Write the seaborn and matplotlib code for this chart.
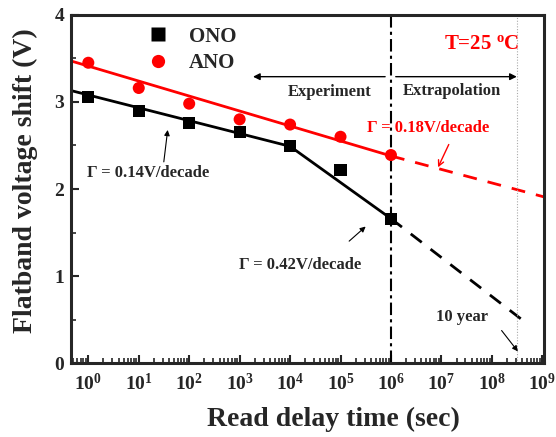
import numpy as np
import pandas as pd
import matplotlib
matplotlib.use("Agg")
import matplotlib.pyplot as plt
import seaborn as sns
from matplotlib.ticker import LogLocator, FixedLocator, MultipleLocator, NullFormatter

# ---------------- data ----------------
time_s = [1, 10, 100, 1e3, 1e4, 1e5, 1e6]
ono_shift = [3.06, 2.90, 2.76, 2.66, 2.49, 2.22, 1.66]
ano_shift = [3.45, 3.16, 2.98, 2.80, 2.74, 2.60, 2.39]

ono_fit_t = [10**-0.34, 1e4, 1e6]
ono_fit_v = [3.13, 2.49, 1.66]
ono_ext_t = [1e6, 10**8.73]
ono_ext_v = [1.66, 0.44]
ano_fit_t = [10**-0.34, 1e6]
ano_fit_v = [3.47, 2.38]
ano_ext_t = [1e6, 10**9.03]
ano_ext_v = [2.38, 1.91]

ten_year_s = 3.15e8
boundary_s = 1e6
xtick_exps = list(range(0, 10))
yticks = [0, 1, 2, 3, 4]

# ---------------- style ----------------
sns.set_theme(style="ticks")
plt.rcParams["font.family"] = ["Liberation Serif", "DejaVu Serif"]
plt.rcParams["font.weight"] = "bold"
plt.rcParams["mathtext.fontset"] = "custom"
plt.rcParams["mathtext.rm"] = "Liberation Serif:bold"
plt.rcParams["mathtext.bf"] = "Liberation Serif:bold"
plt.rcParams["mathtext.it"] = "Liberation Serif:bold"

RED = "#ff0000"

fig = plt.figure(figsize=(5.56, 4.37), dpi=100)
ax = fig.add_axes([0.128, 0.169, 0.850, 0.797])

df_pts = pd.DataFrame({
    "t": time_s * 2,
    "v": ono_shift + ano_shift,
    "s": ["ONO"] * len(time_s) + ["ANO"] * len(time_s),
})

# fit lines
sns.lineplot(x=ono_fit_t, y=ono_fit_v, color="black", lw=2, ax=ax, legend=False)
sns.lineplot(x=ano_fit_t, y=ano_fit_v, color=RED, lw=2, ax=ax, legend=False)
sns.lineplot(x=ono_ext_t, y=ono_ext_v, color="black", lw=2, ax=ax, legend=False)
ax.lines[-1].set_linestyle((0, (5, 4)))
sns.lineplot(x=ano_ext_t, y=ano_ext_v, color=RED, lw=2, ax=ax, legend=False)
ax.lines[-1].set_linestyle((0, (5, 4)))

# points
sns.scatterplot(data=df_pts, x="t", y="v", hue="s", style="s",
                palette={"ONO": "black", "ANO": RED},
                markers={"ONO": "s", "ANO": "o"},
                s=75, edgecolor="none", ax=ax, zorder=5)

# vertical lines
ax.axvline(boundary_s, color="black", lw=1.5, ls=(0, (6, 2, 1.5, 2)))
ax.axvline(ten_year_s, color="#aaaaaa", lw=0.8, ls=(0, (1, 1.5)))

ax.set_xscale("log")
ax.set_xlim(10**-0.34, 10**9.03)
ax.set_ylim(0, 4)

ax.xaxis.set_major_locator(FixedLocator([10.0**e for e in xtick_exps]))
ax.set_xticklabels([r"$10^{%d}$" % e for e in xtick_exps])
ax.xaxis.set_minor_locator(LogLocator(base=10, subs=np.arange(2, 10), numticks=20))
ax.xaxis.set_minor_formatter(NullFormatter())
ax.set_yticks(yticks)
ax.set_yticklabels([str(v) for v in yticks])
ax.yaxis.set_minor_locator(MultipleLocator(0.5))

ax.tick_params(which="major", direction="in", length=6, width=1.5, labelsize=14, pad=7)
ax.tick_params(which="minor", direction="in", length=3.5, width=1.2)
ax.tick_params(axis="y", pad=5)
for sp in ax.spines.values():
    sp.set_linewidth(2.2)
    sp.set_visible(True)

ax.set_xlabel("Read delay time (sec)", fontsize=20, fontweight="bold")
ax.set_ylabel("Flatband voltage shift (V)", fontsize=20, fontweight="bold")
ax.xaxis.set_label_coords(0.556, -0.125)
ax.yaxis.set_label_coords(-0.07, 0.523)

# legend
leg = ax.legend(loc="upper left", bbox_to_anchor=(0.10, 1.02), frameon=False,
                fontsize=15, handletextpad=0.5, labelspacing=0.3, markerscale=1.1)
for t in leg.get_texts():
    t.set_fontweight("bold")

# text annotations
ax.annotate("", xy=(10**3.21, 3.29), xytext=(10**5.94, 3.29),
            arrowprops=dict(arrowstyle="-|>", color="black", lw=1, mutation_scale=10))
ax.annotate("", xy=(10**8.55, 3.29), xytext=(10**6.04, 3.29),
            arrowprops=dict(arrowstyle="-|>", color="black", lw=1, mutation_scale=10))
ax.text(10**4.79, 3.11, "Experiment", ha="center", va="center", fontsize=12, fontweight="bold")
ax.text(10**7.21, 3.13, "Extrapolation", ha="center", va="center", fontsize=12, fontweight="bold")
ax.text(10**7.8, 3.67, r"T=25 $^{\mathrm{o}}$C", ha="center", va="center", fontsize=15,
        fontweight="bold", color=RED)
ax.text(10**6.73, 2.70, "Γ = 0.18V/decade", ha="center", va="center", fontsize=12,
        fontweight="bold", color=RED)
ax.text(10**1.19, 2.18, "Γ = 0.14V/decade", ha="center", va="center", fontsize=12,
        fontweight="bold")
ax.text(10**4.2, 1.13, "Γ = 0.42V/decade", ha="center", va="center", fontsize=12,
        fontweight="bold")
ax.text(10**7.41, 0.53, "10 year", ha="center", va="center", fontsize=12, fontweight="bold")

ax.annotate("", xy=(10**1.58, 2.71), xytext=(10**1.49, 2.28),
            arrowprops=dict(arrowstyle="-|>", color="black", lw=0.8, mutation_scale=8))
ax.annotate("", xy=(10**6.91, 2.22), xytext=(10**7.17, 2.54),
            arrowprops=dict(arrowstyle="->", color=RED, lw=1, mutation_scale=10))
ax.annotate("", xy=(10**5.54, 1.59), xytext=(10**5.13, 1.38),
            arrowprops=dict(arrowstyle="-|>", color="black", lw=0.8, mutation_scale=8))
ax.annotate("", xy=(10**8.55, 0.11), xytext=(10**8.16, 0.40),
            arrowprops=dict(arrowstyle="-|>", color="black", lw=0.8, mutation_scale=8))

fig.savefig("out.png", dpi=100)
